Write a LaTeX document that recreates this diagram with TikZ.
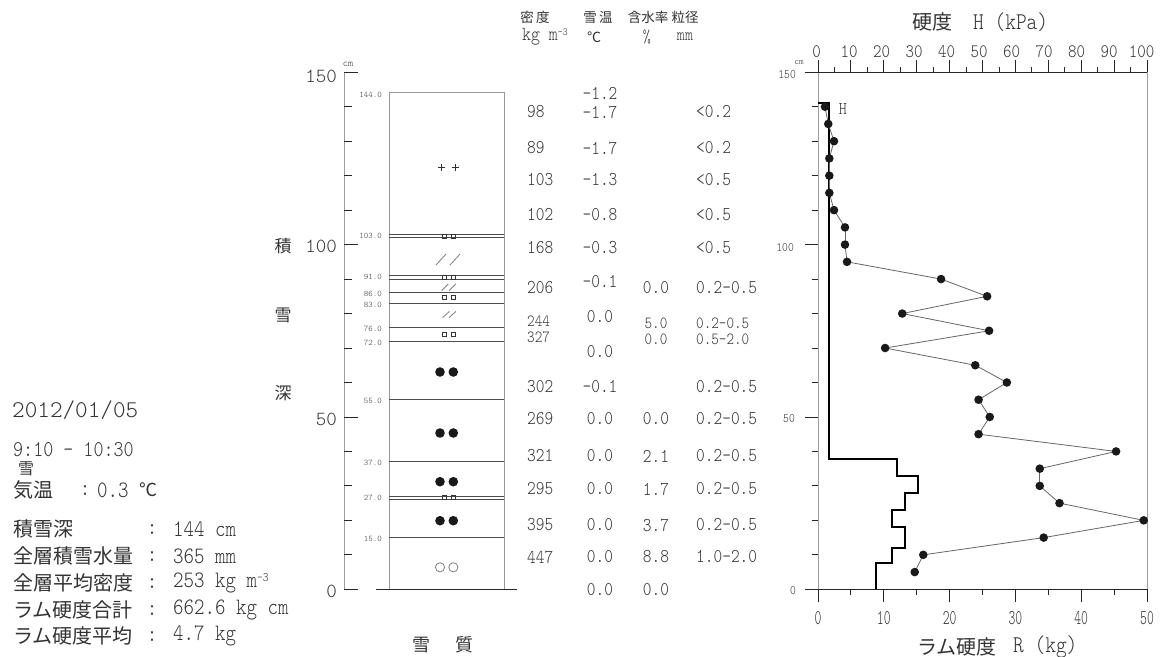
\documentclass[tikz,border=0pt]{standalone}
\usepackage{fontspec}
\newfontfamily\jp{Noto Sans CJK JP}
\newfontfamily\mono{lmmonolt10-regular.otf}
\newfontfamily\nar[FakeStretch=0.85]{lmmonolt10-regular.otf}
\newfontfamily\narw[FakeStretch=0.62]{lmmonolt10-regular.otf}
\definecolor{txt}{gray}{0.2}
\definecolor{axg}{gray}{0.62}
\definecolor{layc}{gray}{0.3}
\newcommand\fs[1]{\fontsize{#1}{#1}\selectfont}
\def\Yc#1{589.3-3.447*(#1)}
\def\Xr#1{818+6.58*(#1)}
\def\Xh#1{818+3.29*(#1)}
\begin{document}
\begin{tikzpicture}[x=1pt,y=-1pt,
  every node/.style={inner sep=0pt,text=txt},
  dat/.style={font=\nar\fs{19.5}},
  dats/.style={font=\nar\fs{17}},
  jpb/.style={font=\jp\fs{20}},
  nb/.style={font=\nar\fs{23.5}},
  hdj/.style={font=\jp\fs{13.5}},
  lbl/.style={font=\mono\fs{8.5},anchor=east},
  tk/.style={black!85,line width=0.9pt},
  axl/.style={axg,line width=1pt},
  boxl/.style={gray!80,line width=0.9pt},
  layl/.style={layc,line width=0.9pt},
  sym/.style={black!80,line width=0.8pt},
  conn/.style={black!60,line width=0.8pt},
  dot/.style={circle,fill=black!90,minimum size=8.6pt,inner sep=0pt},
  stepl/.style={black,line width=2pt,line join=miter}
]
\fill[white] (0,0) rectangle (1164,656);
\useasboundingbox (0,0) rectangle (1164,656);

% ---------------- left information block
\node[font=\mono\fs{24},anchor=west] (date) at (12,410) {2012/01/05};
\node[font=\nar\fs{22.5},anchor=west] (time) at (13,450) {9:10 - 10:30};
\node[font=\jp\fs{16}] (wx) at (26,469) {雪};
\node[jpb,anchor=west] (airl) at (13,490) {気温};
\node[nb] (airc) at (85,490) {:};
\node[nb,anchor=west] (airv) at (97,490) {0.3};
\node[font=\jp\fs{18},anchor=west] (airu) at (139,490) {℃};
\foreach \l/\v/\yy [count=\i] in {積雪深/144 cm/529,全層積雪水量/365 mm/556,全層平均密度/{253 kg m\raisebox{0.6ex}{\fs{13}-3}}/583,ラム硬度合計/662.6 kg cm/610,ラム硬度平均/4.7 kg/636}{
  \node[jpb,anchor=west] (il\i) at (13,\yy) {\l};
  \node[nb] (ic\i) at (152,\yy) {:};
  \node[nb,anchor=west] (iv\i) at (173,\yy) {\v};
}

% ---------------- snow column axis
\draw[axl] (344,{\Yc{150}}) -- (344,589.3);
\foreach \c in {10,20,30,40,60,70,80,90,110,120,130,140}
  \draw[tk] (344,{\Yc{\c}}) -- (352,{\Yc{\c}});
\foreach \c in {0,50,100,150}
  \draw[tk] (344,{\Yc{\c}}) -- (358,{\Yc{\c}});
\draw[tk] (376,589.3) -- (517,589.3);
\node[font=\mono\fs{20},anchor=east] (a150) at (337,76) {150};
\node[font=\mono\fs{10}] (acm) at (348,64) {cm};
\node[font=\mono\fs{20},anchor=east] (a100) at (337,246.5) {100};
\node[font=\mono\fs{20},anchor=east] (a50) at (337,419.5) {50};
\node[font=\mono\fs{20},anchor=east] (a0) at (337,591) {0};
\node[font=\jp\fs{17}] (k1) at (283,246) {積};
\node[font=\jp\fs{17}] (k2) at (283,315) {雪};
\node[font=\jp\fs{17}] (k3) at (283,393) {深};
\node[font=\jp\fs{18}] (sq1) at (421,645) {雪};
\node[font=\jp\fs{18}] (sq2) at (464,645) {質};

% ---------------- snow column box and layers
\draw[boxl] (389,589.3) -- (389,{\Yc{144}}) -- (504,{\Yc{144}}) -- (504,589.3);
\foreach \h in {103,102,91,90,86,83,76,72,55,37,27,26,15}
  \draw[layl] (389,{\Yc{\h}}) -- (504,{\Yc{\h}});
\foreach \h/\t in {144/144.0,103/103.0,91/91.0,86/86.0,83/83.0,76/76.0,72/72.0,55/55.0,37/37.0,27/27.0,15/15.0}
  \node[lbl] (lb\h) at (382,{\Yc{\h}+1.5}) {\t};
% new snow ++
\foreach \x in {441,455}
  \draw[sym] (\x-3.5,167.3) -- (\x+3.5,167.3) (\x,163.8) -- (\x,170.8);
% small squares on thin layers
\foreach \yy in {236,277,297.8,334,497.7}
  \foreach \x in {444.7,453.2}
    \draw[sym,line width=0.7pt] (\x-2,\yy-2) rectangle (\x+2,\yy+2);
% slashes
\foreach \x in {441,455}
  \draw[sym,gray] (\x-5,265) -- (\x+5,254);
\foreach \x in {445,452.5}
  \draw[sym,gray] (\x-3.3,290.5) -- (\x+3.3,284);
\foreach \x in {446,452.5}
  \draw[sym,gray] (\x-3.3,317.5) -- (\x+3.3,311.5);
% compacted grains
\foreach \yy in {372,433,481.7,520.7}
  \foreach \x in {440,453.3}
    \fill[black!90] (\x,\yy) circle (4.8);
\foreach \x in {440,453.3}
  \draw[gray,line width=0.8pt] (\x,567.3) circle (4.6);

% ---------------- data columns
\node[hdj] (h1) at (535,17) {密\,度};
\node[hdj] (h2) at (598,17) {雪\,温};
\node[hdj] (h3) at (648,17) {含水率};
\node[hdj] (h4) at (685,17) {粒径};
\node[font=\nar\fs{20},anchor=west] (u1) at (522,37) {kg m\raisebox{0.6ex}{\fs{11}-3}};
\node[font=\jp\fs{14}] (u2) at (594,37) {℃};
\node[font=\nar\fs{18}] (u3) at (647,37) {\%};
\node[font=\nar\fs{18}] (u4) at (685,37) {mm};
\foreach \v/\yy [count=\i] in {98/112,89/148,103/180,102/215,168/248,206/288,302/387,269/419,321/456,295/489,395/525,447/557}
  \node[dat,anchor=west] (den\i) at (527,\yy) {\v};
\node[dats,anchor=west] (denA) at (527,321.5) {244};
\node[dats,anchor=west] (denB) at (527,337.5) {327};
\foreach \v/\yy [count=\i] in {-1.2/93,-1.7/112,-1.7/148,-1.3/180,-0.8/215,-0.3/248,-0.1/282,0.0/317,0.0/352,-0.1/387,0.0/419,0.0/456,0.0/489,0.0/525,0.0/557,0.0/590}
  \node[dat] (tmp\i) at (600,\yy) {\v};
\foreach \v/\yy [count=\i] in {0.0/288,0.0/419,2.1/456,1.7/489,3.7/525,8.8/557,0.0/590}
  \node[dat] (wat\i) at (656,\yy) {\v};
\node[dats] (watA) at (656,323.5) {5.0};
\node[dats] (watB) at (656,339.5) {0.0};
\foreach \v/\yy [count=\i] in {<0.2/112,<0.2/148,<0.5/180,<0.5/215,<0.5/248,0.2-0.5/288,0.2-0.5/387,0.2-0.5/419,0.2-0.5/456,0.2-0.5/489,0.2-0.5/525,1.0-2.0/557}
  \node[dat,anchor=west] (grn\i) at (696,\yy) {\v};
\node[dats,anchor=west] (grnA) at (696,323.5) {0.2-0.5};
\node[dats,anchor=west] (grnB) at (696,339.5) {0.5-2.0};

% ---------------- hardness chart
\node[font=\jp\fs{20}] (ht1) at (932,22) {硬度};
\node[font=\nar\fs{24},anchor=west] (ht2) at (973,22) {H (kPa)};
\node[font=\jp\fs{20},anchor=west] (rt1) at (917,647) {ラム硬度};
\node[font=\nar\fs{24},anchor=west] (rt2) at (1013,647) {R (kg)};
\draw[axl] (818,72.25) -- (818,589.3);
\draw[axl] (1147,72.25) -- (1147,589.3);
\draw[tk] (805,72.25) -- (1147,72.25);
\draw[tk] (805,589.3) -- (1147,589.3);
\foreach \k in {0,...,20}{
  \pgfmathsetmacro\xx{\Xh{5*\k}}
  \ifodd\k
    \draw[tk] (\xx,67) -- (\xx,72.25);
  \else
    \draw[tk] (\xx,60) -- (\xx,72.25);
  \fi
}
\foreach \k [count=\i] in {0,10,...,100}
  \node[font=\nar\fs{19}] (tl\i) at ({816.7+3.25*\k},52) {\k};
\foreach \k in {0,...,10}{
  \pgfmathsetmacro\xx{\Xr{5*\k}}
  \ifodd\k
    \draw[tk] (\xx,589.3) -- (\xx,595);
  \else
    \draw[tk] (\xx,589.3) -- (\xx,601.7);
  \fi
}
\foreach \k [count=\i] in {0,10,...,50}
  \node[font=\narw\fs{21}] (bl\i) at ({\Xr{\k}},618) {\k};
\foreach \c in {10,20,30,40,60,70,80,90,110,120,130,140}
  \draw[tk] (811.7,{\Yc{\c}}) -- (818,{\Yc{\c}});
\foreach \c in {50,100}
  \draw[tk] (805,{\Yc{\c}}) -- (818,{\Yc{\c}});
\node[font=\nar\fs{13},anchor=east] (r150) at (796,75) {150};
\node[font=\mono\fs{9}] (rcm) at (799,63) {cm};
\node[font=\nar\fs{13},anchor=east] (r100) at (794,248) {100};
\node[font=\nar\fs{13},anchor=east] (r50) at (795,419) {50};
\node[font=\nar\fs{13},anchor=east] (r0) at (796,590.5) {0};

% hardness step profile
\draw[stepl] (818,103.3) -- (828.5,103.3) -- (828.5,459) -- (897.3,459) -- (897.3,476)
  -- (917.7,476) -- (917.7,493.3) -- (905,493.3) -- (905,510) -- (891.7,510)
  -- (891.7,527.3) -- (905,527.3) -- (905,547.7) -- (891.7,547.7) -- (891.7,563.3)
  -- (876.3,563.3) -- (876.3,589.3);
\node[font=\nar\fs{18}] (hl) at (843,109) {H};

% ram hardness points
\foreach \c/\r [count=\i] in {140/1.06,135/1.56,130/2.43,125/1.72,120/1.72,115/1.72,110/2.43,105/4.1,100/4.1,95/4.41,90/18.7,85/25.7,80/12.8,75/26.0,70/10.2,65/23.9,60/28.7,55/24.4,50/26.1,45/24.4,40/45.3,35/33.7,30/33.7,25/36.7,20/49.5,15/34.3,10/16.0,5/14.7}
  \coordinate (p\i) at ({\Xr{\r}},{\Yc{\c}});
\foreach \i in {1,...,27}{
  \pgfmathtruncatemacro\j{\i+1}
  \draw[conn] (p\i) -- (p\j);
}
\foreach \i in {1,...,28}
  \node[dot] (d\i) at (p\i) {};
\end{tikzpicture}
\end{document}
